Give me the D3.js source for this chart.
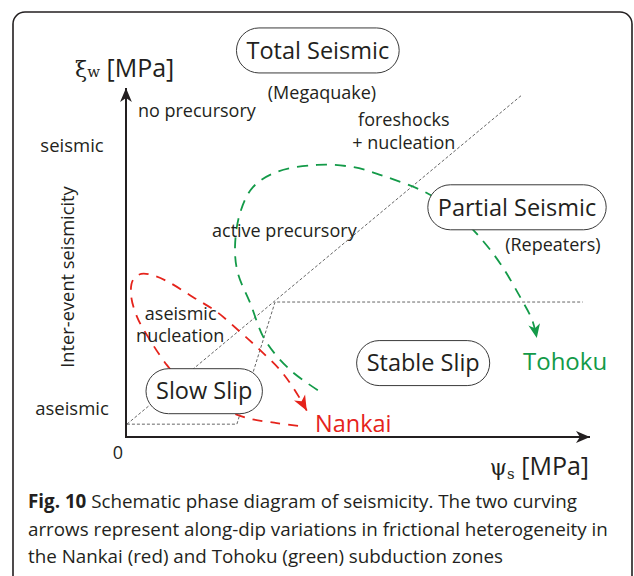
<!DOCTYPE html>
<html>
<head>
<meta charset="utf-8">
<script src="https://cdn.jsdelivr.net/npm/d3@7"></script>
<style>
  body { margin: 0; background: #fff; }
  svg { display: block; }
  text { font-family: "Open Sans", "Noto Sans", sans-serif; fill: #231f20; }
</style>
</head>
<body>
<div id="chart"></div>
<script>
// schematic phase diagram, data space is 0..100 on both axes
const width = 634;
const height = 576;

// curve points [psi_s, xi_w]
const nankaiCurve = [
  [37.4, 3.2], [32.8, 4.0], [26.3, 5.5], [19.3, 9.2], [12.8, 15.0], [8.9, 20.7],
  [5.2, 28.0], [2.4, 34.6], [1.1, 40.9], [1.5, 45.2], [3.3, 47.0], [6.3, 46.4],
  [9.6, 44.4], [14.6, 40.3], [19.8, 36.0], [24.8, 30.3], [29.1, 25.1],
  [33.5, 19.3], [36.7, 13.5], [39.3, 7.6]
];
const tohokuCurve = [
  [41.7, 13.5], [35.7, 19.3], [30.2, 28.0], [27.0, 38.6], [24.3, 47.3],
  [23.7, 54.8], [24.8, 64.6], [27.6, 72.0], [32.8, 76.4], [41.5, 78.4],
  [49.3, 77.8], [56.7, 74.9], [65.4, 70.3], [71.5, 64.8], [76.5, 58.2],
  [81.3, 50.1], [85.7, 40.3], [88.3, 33.7], [89.3, 28.5]
];
// dotted phase boundaries
const boundaryDiag = [[0.2, 3.7], [86.1, 98.6]];
const boundaryStep = [[0.2, 3.7], [24.1, 3.7], [32.4, 38.9], [99.3, 38.9]];

// regime names (boxed) and plain notes
const regimes = ["Total Seismic", "Partial Seismic", "Stable Slip", "Slow Slip"];
const regimeAt = [[41.7, 111.4], [85.0, 66.2], [64.6, 21.3], [17.0, 13.2]];
const notes = ["(Megaquake)", "(Repeaters)", "no precursory", "foreshocks", "+ nucleation",
  "active precursory", "aseismic", "nucleation"];
const noteAt = [[42.6, 97.5], [92.8, 53.6], [2.6, 92.2], [60.4, 89.6], [60.4, 83.0],
  [18.7, 57.6], [4.1, 33.7], [2.2, 27.4]];
const noteAnchor = ["middle", "middle", "start", "middle", "middle", "start", "start", "start"];

const yTickLabels = ["aseismic", "seismic"];
const yTickValues = [8.1, 84.1];

const caption = [
  ["Fig. 10", " Schematic phase diagram of seismicity. The two curving"],
  ["", "arrows represent along-dip variations in frictional heterogeneity in"],
  ["", "the Nankai (red) and Tohoku (green) subduction zones"]
];

const red = "#e5231b";
const green = "#139a48";

const svg = d3.select("#chart").append("svg")
  .attr("width", width)
  .attr("height", height);

const x = d3.scaleLinear().domain([0, 100]).range([126, 586]);
const y = d3.scaleLinear().domain([0, 100]).range([437, 90]);

// outer frame
svg.append("rect")
  .attr("x", 13).attr("y", 12)
  .attr("width", 619).attr("height", 640)
  .attr("rx", 12)
  .attr("fill", "none")
  .attr("stroke", "#231f20")
  .attr("stroke-width", 1.6);

const defs = svg.append("defs");
function arrowMarker(id, color, size) {
  defs.append("marker")
    .attr("id", id)
    .attr("markerUnits", "userSpaceOnUse")
    .attr("viewBox", "-16 -8 18 16")
    .attr("refX", 0).attr("refY", 0)
    .attr("markerWidth", 18).attr("markerHeight", 16)
    .attr("orient", "auto")
    .append("path")
      .attr("d", `M0,0 L${-size},${-size * 0.42} L${-size * 0.72},0 L${-size},${size * 0.42} Z`)
      .attr("fill", color);
}
arrowMarker("arr-black", "#231f20", 14);
arrowMarker("arr-red", red, 15);
arrowMarker("arr-green", green, 14);

const line = d3.line().x(d => x(d[0])).y(d => y(d[1]));

// dotted boundaries
svg.append("g")
    .attr("fill", "none")
    .attr("stroke", "#666")
    .attr("stroke-width", 1)
    .attr("stroke-dasharray", "3,2")
  .selectAll("path")
  .data([boundaryDiag, boundaryStep])
  .join("path")
    .attr("d", line);

// axes
svg.append("line")
  .attr("x1", x(0)).attr("y1", y(0))
  .attr("x2", x(0)).attr("y2", y(100) - 2)
  .attr("stroke", "#231f20").attr("stroke-width", 2)
  .attr("marker-end", "url(#arr-black)");
svg.append("line")
  .attr("x1", x(0) - 1).attr("y1", y(0))
  .attr("x2", x(100) + 4).attr("y2", y(0))
  .attr("stroke", "#231f20").attr("stroke-width", 2)
  .attr("marker-end", "url(#arr-black)");

// curving arrows
const curve = d3.line().x(d => x(d[0])).y(d => y(d[1])).curve(d3.curveCatmullRom);
svg.append("path")
  .attr("d", curve(nankaiCurve))
  .attr("fill", "none")
  .attr("stroke", red)
  .attr("stroke-width", 1.8)
  .attr("stroke-dasharray", "10,8")
  .attr("marker-end", "url(#arr-red)");
svg.append("path")
  .attr("d", curve(tohokuCurve))
  .attr("fill", "none")
  .attr("stroke", green)
  .attr("stroke-width", 1.8)
  .attr("stroke-dasharray", "11,8")
  .attr("marker-end", "url(#arr-green)");

// boxed regime labels
const reg = svg.append("g").selectAll("g")
  .data(regimes)
  .join("g")
    .attr("transform", (d, i) => `translate(${x(regimeAt[i][0])},${y(regimeAt[i][1])})`);
reg.append("text")
  .attr("text-anchor", "middle")
  .attr("dy", "0.35em")
  .attr("font-size", 23.5)
  .text(d => d);
reg.each(function() {
  const g = d3.select(this);
  const b = g.select("text").node().getBBox();
  const h = 45;
  g.insert("rect", "text")
    .attr("x", b.x - 10).attr("y", -h / 2)
    .attr("width", b.width + 20).attr("height", h)
    .attr("rx", h / 2)
    .attr("fill", "#fff")
    .attr("stroke", "#3a3a3a")
    .attr("stroke-width", 1);
});

// notes
svg.append("g").selectAll("text")
  .data(notes)
  .join("text")
    .attr("x", (d, i) => x(noteAt[i][0]))
    .attr("y", (d, i) => y(noteAt[i][1]))
    .attr("text-anchor", (d, i) => noteAnchor[i])
    .attr("font-size", 18)
    .text(d => d);

// y category labels
svg.append("g").selectAll("text")
  .data(yTickLabels)
  .join("text")
    .attr("x", 72)
    .attr("y", (d, i) => y(yTickValues[i]))
    .attr("dy", "0.35em")
    .attr("text-anchor", "middle")
    .attr("font-size", 18.5)
    .text(d => d);

svg.append("text")
  .attr("transform", `translate(68,${277}) rotate(-90)`)
  .attr("text-anchor", "middle")
  .attr("dy", "0.35em")
  .attr("font-size", 18.3)
  .text("Inter-event seismicity");

svg.append("text")
  .attr("x", x(0) - 8).attr("y", y(0) + 22)
  .attr("text-anchor", "middle")
  .attr("font-size", 18)
  .text("0");

// axis titles
const yt = svg.append("text")
  .attr("x", 75).attr("y", 77)
  .attr("font-size", 25);
yt.append("tspan").attr("font-family", "DejaVu Serif, serif").attr("font-size", 22).text("ξ");
yt.append("tspan").attr("font-family", "DejaVu Serif, serif").attr("font-size", 15).text("w");
yt.append("tspan").text(" [MPa]");

const xt = svg.append("text")
  .attr("x", 589).attr("y", 475)
  .attr("text-anchor", "end")
  .attr("font-size", 25);
xt.append("tspan").attr("font-family", "DejaVu Serif, serif").attr("font-size", 22).text("ψ");
xt.append("tspan").attr("font-family", "DejaVu Serif, serif").attr("font-size", 15).attr("dy", 4).text("s");
xt.append("tspan").attr("dy", -4).text(" [MPa]");

// region names in colour
svg.append("text")
  .attr("x", x(86.3)).attr("y", y(19.3))
  .attr("font-size", 24)
  .style("fill", green)
  .text("Tohoku");
svg.append("text")
  .attr("x", x(41.1)).attr("y", y(1.4))
  .attr("font-size", 23.5)
  .style("fill", red)
  .text("Nankai");

// caption
const cap = svg.append("g").selectAll("text")
  .data(caption)
  .join("text")
    .attr("x", 28)
    .attr("y", (d, i) => 508 + i * 27.5)
    .attr("font-size", 18.8);
cap.append("tspan").attr("font-weight", "bold").text(d => d[0]);
cap.append("tspan").text(d => d[1]);
</script>
</body>
</html>
